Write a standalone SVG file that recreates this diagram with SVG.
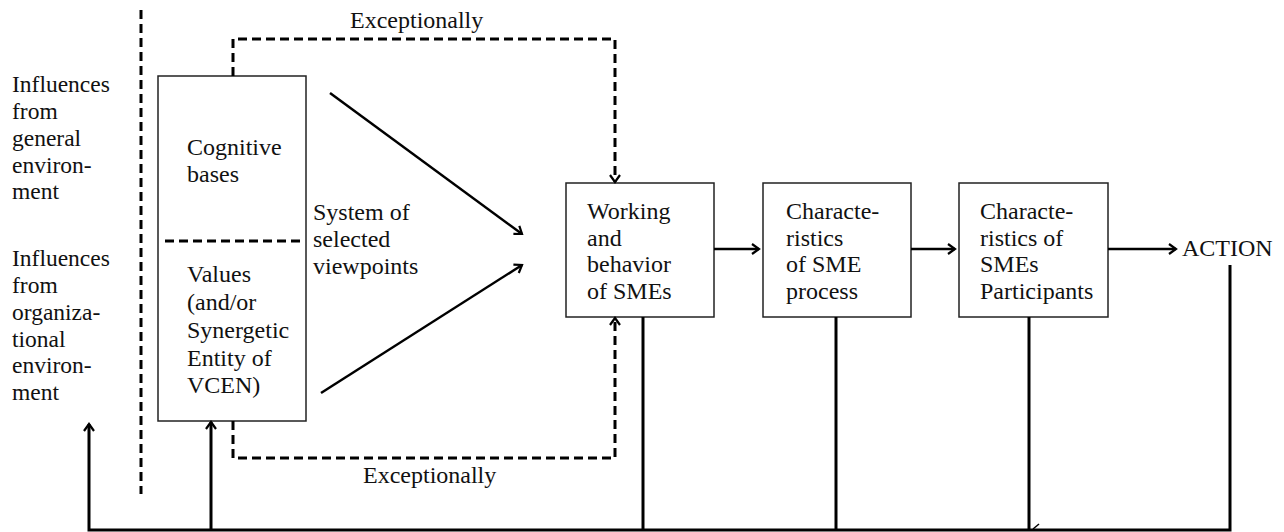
<svg xmlns="http://www.w3.org/2000/svg" width="1284" height="532" viewBox="0 0 1284 532">
  <style>
    text { font-family: "Liberation Serif", "Times New Roman", serif; font-size: 24px; fill: #111; }
    .side text { font-size: 23.5px; }
    .box { fill: #fff; stroke: #222; stroke-width: 1.5; }
    .solid { fill: none; stroke: #000; stroke-width: 2.5; }
    .thick { fill: none; stroke: #000; stroke-width: 3; }
    .dash { fill: none; stroke: #000; stroke-width: 3; stroke-dasharray: 9 5; }
  </style>
  <defs>
    <marker id="arrow" markerUnits="userSpaceOnUse" markerWidth="14" markerHeight="14" refX="11" refY="7" orient="auto">
      <path d="M4,2 L11,7 L4,12" fill="none" stroke="#000" stroke-width="2.2"/>
    </marker>
  </defs>

  <!-- boundary between environment and cognitive system -->
  <line class="dash" x1="141" y1="10" x2="141" y2="494"/>

  <!-- environment influences -->
  <g id="env-general" class="side">
    <text x="12" y="92">Influences</text>
    <text x="12" y="119">from</text>
    <text x="12" y="146">general</text>
    <text x="12" y="173">environ-</text>
    <text x="12" y="199">ment</text>
  </g>
  <g id="env-organizational" class="side">
    <text x="12" y="266">Influences</text>
    <text x="12" y="293">from</text>
    <text x="12" y="320">organiza-</text>
    <text x="12" y="347">tional</text>
    <text x="12" y="373">environ-</text>
    <text x="12" y="400">ment</text>
  </g>

  <!-- cognitive bases / values -->
  <g id="viewpoint-box">
    <rect class="box" x="158" y="76" width="148" height="345"/>
    <line class="dash" x1="165" y1="241" x2="301" y2="241"/>
    <text x="187" y="155">Cognitive</text>
    <text x="187" y="182">bases</text>
    <text x="187" y="282">Values</text>
    <text x="187" y="310">(and/or</text>
    <text x="187" y="338">Synergetic</text>
    <text x="187" y="366">Entity of</text>
    <text x="187" y="393">VCEN)</text>
  </g>

  <g id="viewpoints-label">
    <text x="313" y="220">System of</text>
    <text x="313" y="247">selected</text>
    <text x="313" y="274">viewpoints</text>
  </g>

  <g id="working">
    <rect class="box" x="566" y="183" width="148" height="134"/>
    <text x="587" y="219">Working</text>
    <text x="587" y="246">and</text>
    <text x="587" y="272">behavior</text>
    <text x="587" y="299">of SMEs</text>
  </g>

  <g id="process">
    <rect class="box" x="763" y="183" width="148" height="134"/>
    <text x="786" y="219">Characte-</text>
    <text x="786" y="246">ristics</text>
    <text x="786" y="272">of SME</text>
    <text x="786" y="299">process</text>
  </g>

  <g id="participants">
    <rect class="box" x="959" y="183" width="149" height="134"/>
    <text x="980" y="219">Characte-</text>
    <text x="980" y="246">ristics of</text>
    <text x="980" y="272">SMEs</text>
    <text x="980" y="299">Participants</text>
  </g>

  <g id="action">
    <text x="1182" y="256">ACTION</text>
  </g>

  <g id="connectors">
    <!-- exceptional bypass paths -->
    <path class="dash" d="M233,76 V39 H615 V182" marker-end="url(#arrow)"/>
    <text x="350" y="28">Exceptionally</text>
    <path class="dash" d="M233,421 V458 H615 V318" marker-end="url(#arrow)"/>
    <text x="363" y="483">Exceptionally</text>

    <!-- selected viewpoints into working -->
    <line class="solid" x1="330" y1="93" x2="522" y2="234" marker-end="url(#arrow)"/>
    <line class="solid" x1="321" y1="393" x2="522" y2="265" marker-end="url(#arrow)"/>

    <!-- main chain -->
    <line class="solid" x1="714" y1="249" x2="759" y2="249" marker-end="url(#arrow)"/>
    <line class="solid" x1="911" y1="249" x2="955" y2="249" marker-end="url(#arrow)"/>
    <line class="solid" x1="1108" y1="249" x2="1176" y2="249" marker-end="url(#arrow)"/>

    <!-- feedback loop -->
    <path class="thick" d="M643,317 V530"/>
    <path class="thick" d="M836,317 V530"/>
    <path class="thick" d="M1029,317 V530"/>
    <path class="thick" d="M1230,265 V530 H89 V424" marker-end="url(#arrow)"/>
    <path class="thick" d="M211,530 V422" marker-end="url(#arrow)"/>
    <path d="M1033,529 L1039,524" fill="none" stroke="#000" stroke-width="1.5"/>
  </g>
</svg>
